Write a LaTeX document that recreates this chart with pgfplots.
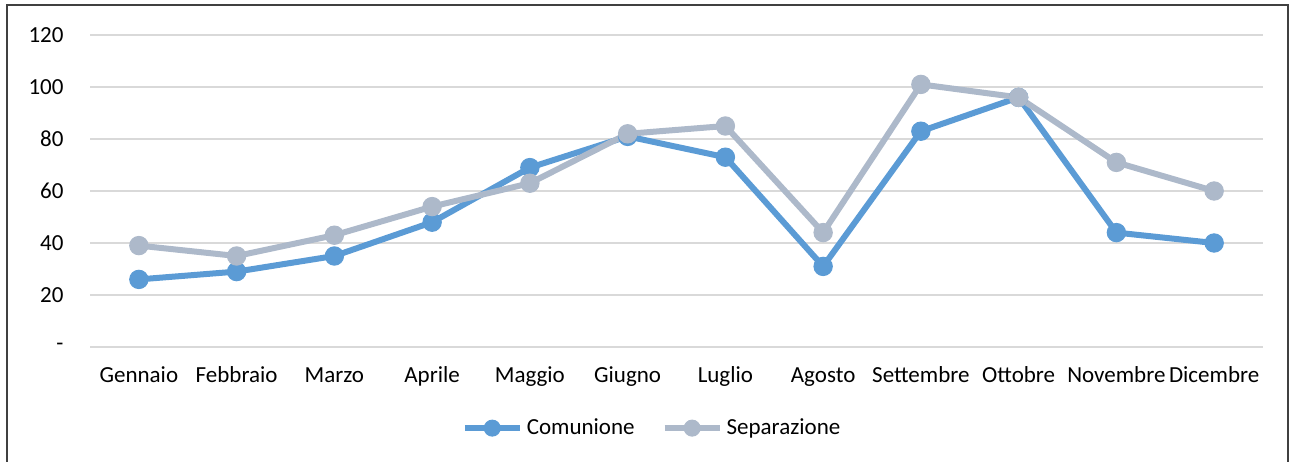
\documentclass[border=0pt]{standalone}
\usepackage{pgfplots}
\pgfplotsset{compat=1.18}
\usepackage{fontspec}
\setmainfont{Carlito}
\definecolor{cblue}{HTML}{5B9BD5}
\definecolor{cgrey}{HTML}{ADB9CA}
\definecolor{cgrid}{HTML}{D9D9D9}
\definecolor{cframe}{HTML}{404040}
\begin{document}
\begin{tikzpicture}
\path[use as bounding box] (0,0) rectangle (646.5pt,230.5pt);
\clip (0,0) rectangle (646.5pt,230.5pt);
\draw[cframe, line width=0.9pt] (3.5pt,-5pt) -- (3.5pt,228pt) -- (644pt,228pt) -- (644pt,-5pt);
\begin{axis}[
  at={(45pt,57pt)}, anchor=south west,
  scale only axis, width=586.5pt, height=156pt,
  xmin=-0.5, xmax=11.5, ymin=0, ymax=120,
  xtick={0,...,11},
  xticklabels={Gennaio,Febbraio,Marzo,Aprile,Maggio,Giugno,Luglio,Agosto,Settembre,Ottobre,Novembre,Dicembre},
  ytick={0,20,...,120},
  yticklabels={-,20,40,60,80,100,120},
  axis line style={draw=none},
  major tick length=0pt,
  ymajorgrids, grid style={cgrid, line width=1pt},
  tick label style={font=\fontsize{11.5pt}{13pt}\selectfont, text=black},
  /pgf/number format/assume math mode=true,
  xticklabel style={anchor=base, yshift=-17.8pt},
  yticklabel style={xshift=-9.7pt},
  legend columns=2,
  legend style={at={(0.48,-0.26)}, anchor=center, draw=none, fill=none,
    font=\fontsize{11.5pt}{13pt}\selectfont,
    /tikz/every even column/.append style={column sep=11.5pt}},
  legend cell align=left,
  legend image code/.code={%
    \draw[#1, mark size=4pt, mark repeat=2, mark phase=2] plot coordinates {(0pt,0pt) (13.75pt,0pt) (27.5pt,0pt)};},
]
\addplot[cblue, line width=3pt, mark=*, mark size=4.6pt, mark options={solid, line width=0.5pt}] coordinates {
(0,26) (1,29) (2,35) (3,48) (4,69) (5,81) (6,73) (7,31) (8,83) (9,96) (10,44) (11,40)};
\addlegendentry{Comunione}
\addplot[cgrey, line width=3pt, mark=*, mark size=4.6pt, mark options={solid, line width=0.5pt}] coordinates {
(0,39) (1,35) (2,43) (3,54) (4,63) (5,82) (6,85) (7,44) (8,101) (9,96) (10,71) (11,60)};
\addlegendentry{Separazione}
\end{axis}
\end{tikzpicture}
\end{document}
